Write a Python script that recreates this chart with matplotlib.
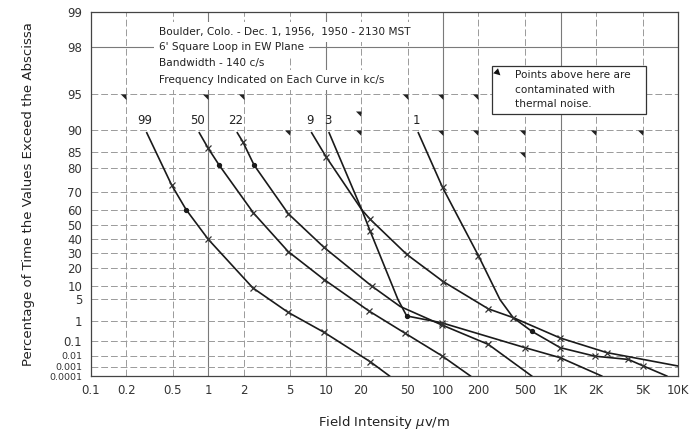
import matplotlib
matplotlib.use("Agg")
import matplotlib.pyplot as plt
import numpy as np
from matplotlib.patches import Rectangle

# field intensity (uV/m) vs percent of time exceeded, one curve per frequency (kc/s)
freqs = ["99", "50", "22", "9", "3", "1"]

f99_x = [0.30, 0.49, 0.65, 1.0, 2.4, 4.8, 9.7, 24, 35]
f99_y = [89.5, 73, 60, 40, 9, 2, 0.3, 0.003, 0.0001]

f50_x = [0.84, 1.0, 1.24, 2.43, 4.8, 9.7, 23.5, 47, 97, 171]
f50_y = [89.5, 86, 81, 58, 31, 13, 2.2, 0.28, 0.01, 0.0001]

f22_x = [1.77, 1.97, 2.46, 4.8, 9.7, 24.7, 43, 97, 243, 568]
f22_y = [89.5, 87.6, 81, 57.6, 34, 9.8, 3.1, 0.67, 0.062, 0.0001]

f9_x = [7.6, 10.1, 20.3, 23.9, 49, 100, 243, 396, 993, 2470, 10000]
f9_y = [89.5, 83.6, 60, 54, 29, 12, 2.6, 1.3, 0.15, 0.017, 0.0012]

f3_x = [10.7, 20.3, 23.9, 41.3, 49, 97, 498, 993, 2240]
f3_y = [89.5, 60, 46, 4.8, 1.5, 0.82, 0.038, 0.0067, 0.0001]

f1_x = [61.5, 99, 200, 305, 395, 568, 993, 1963, 3776, 5070, 8020]
f1_y = [89.5, 72, 28, 4.8, 1.3, 0.34, 0.038, 0.0089, 0.0048, 0.0012, 0.0001]

# which read points carry an "x" and which a dot
f99_cross, f99_dot = [1, 3, 4, 5, 6, 7], [2]
f50_cross, f50_dot = [1, 3, 4, 5, 6, 7, 8], [2]
f22_cross, f22_dot = [1, 3, 4, 5, 7, 8], [2]
f9_cross, f9_dot = [1, 3, 4, 5, 6, 8, 9], []
f3_cross, f3_dot = [2, 5, 6, 7], [4]
f1_cross, f1_dot = [1, 2, 4, 6, 7, 8, 9], [5]

# thermal-noise flags
flag_x = [0.2, 1, 2, 50, 100, 200, 5, 20, 100, 200, 500, 2000, 5000, 500, 20]
flag_y = [95, 95, 95, 95, 95, 95, 90, 90, 90, 90, 90, 90, 90, 85, 93]

y_ticks = [99, 98, 95, 90, 85, 80, 70, 60, 50, 40, 30, 20, 10, 5, 1, 0.1, 0.01, 0.001, 0.0001]
y_labels = ["99", "98", "95", "90", "85", "80", "70", "60", "50", "40", "30", "20",
            "10", "5", "1", "0.1", "0.01", "0.001", "0.0001"]
x_ticks = [0.1, 0.2, 0.5, 1, 2, 5, 10, 20, 50, 100, 200, 500, 1000, 2000, 5000, 10000]
x_labels = ["0.1", "0.2", "0.5", "1", "2", "5", "10", "20", "50", "100", "200", "500",
            "1K", "2K", "5K", "10K"]


def rayleigh_fwd(p):
    p = np.clip(np.asarray(p, dtype=float), 1e-9, 99.99999)
    return -np.log(-np.log(p / 100.0))


def rayleigh_inv(t):
    return 100.0 * np.exp(-np.exp(-np.asarray(t, dtype=float)))


fig = plt.figure(figsize=(6.94, 4.36), dpi=100)
ax = fig.add_axes([0.1307, 0.1376, 0.8463, 0.8356])
ax.set_xscale("log")
ax.set_yscale("function", functions=(rayleigh_fwd, rayleigh_inv))
ax.set_xlim(0.1, 10000)
ax.set_ylim(0.0001, 99)

ax.set_xticks(x_ticks)
ax.set_xticklabels(x_labels)
ax.set_yticks(y_ticks)
ax.set_yticklabels(y_labels)
ax.minorticks_off()
ax.tick_params(length=0, labelsize=8.5, colors="#333333", pad=6)
# bottom labels of the Rayleigh paper are crowded
for lab in ax.get_yticklabels()[-3:]:
    lab.set_fontsize(6.8)

grid_kw = dict(color="#9a9a9a", lw=0.7, linestyle=(0, (7, 3)), zorder=0)
for xv in x_ticks[1:-1]:
    if xv in (1, 10, 100, 1000):
        ax.axvline(xv, color="#7a7a7a", lw=0.8, zorder=0)
    else:
        ax.axvline(xv, **grid_kw)
for yv in y_ticks[1:-1]:
    if yv == 98:
        ax.axhline(yv, color="#7a7a7a", lw=0.8, zorder=0)
    else:
        ax.axhline(yv, **grid_kw)

for sp in ax.spines.values():
    sp.set_color("#444444")
    sp.set_linewidth(0.9)

curves = [
    (f99_x, f99_y, f99_cross, f99_dot),
    (f50_x, f50_y, f50_cross, f50_dot),
    (f22_x, f22_y, f22_cross, f22_dot),
    (f9_x, f9_y, f9_cross, f9_dot),
    (f3_x, f3_y, f3_cross, f3_dot),
    (f1_x, f1_y, f1_cross, f1_dot),
]
for name, (xs, ys, cross, dots) in zip(freqs, curves):
    xs = np.array(xs)
    ys = np.array(ys)
    ax.plot(xs, ys, color="#1a1a1a", lw=1.2, zorder=3)
    ax.plot(xs[cross], ys[cross], ls="none", marker="x", ms=5, mew=0.9,
            color="#333333", zorder=4)
    if dots:
        ax.plot(xs[dots], ys[dots], ls="none", marker="o", ms=2.8,
                color="#1a1a1a", zorder=4)
    ax.text(xs[0] * 0.97, 91.6, name, ha="center", va="center", fontsize=8.5,
            color="#222222", zorder=5)

flag = [(0, 0), (-1, 0), (0, -1), (0, 0)]
ax.plot(flag_x, flag_y, ls="none", marker=flag, ms=8, color="#222222",
        mec="none", zorder=3)

# header text
head = ["Boulder, Colo. - Dec. 1, 1956,  1950 - 2130 MST",
        "6' Square Loop in EW Plane",
        "Bandwidth - 140 c/s",
        "Frequency Indicated on Each Curve in kc/s"]
for line, yy in zip(head, [0.945, 0.904, 0.858, 0.8125]):
    ax.text(0.1163, yy, line, transform=ax.transAxes, ha="left", va="center",
            fontsize=7.6, color="#222222", zorder=6,
            bbox=dict(facecolor="white", edgecolor="none", pad=3.5))

# thermal-noise note
ax.add_patch(Rectangle((0.683, 0.719), 0.2625, 0.132, transform=ax.transAxes,
                       facecolor="white", edgecolor="#333333", lw=0.9, zorder=6))
for line, yy in zip(["Points above here are", "contaminated with", "thermal noise."],
                    [0.825, 0.785, 0.747]):
    ax.text(0.7225, yy, line, transform=ax.transAxes, ha="left", va="center",
            fontsize=7.6, color="#222222", zorder=7)
ax.annotate("", xy=(0.701, 0.820), xytext=(0.686, 0.843), xycoords="axes fraction",
            arrowprops=dict(arrowstyle="wedge,tail_width=0.5", color="#111111", lw=0),
            zorder=7)

ax.set_xlabel("Field Intensity $\\mu$v/m", fontsize=9.5, color="#222222", labelpad=12)
ax.set_ylabel("Percentage of Time the Values Exceed the Abscissa", fontsize=9.5,
              color="#222222", labelpad=10)

fig.savefig("out.png", dpi=100)
